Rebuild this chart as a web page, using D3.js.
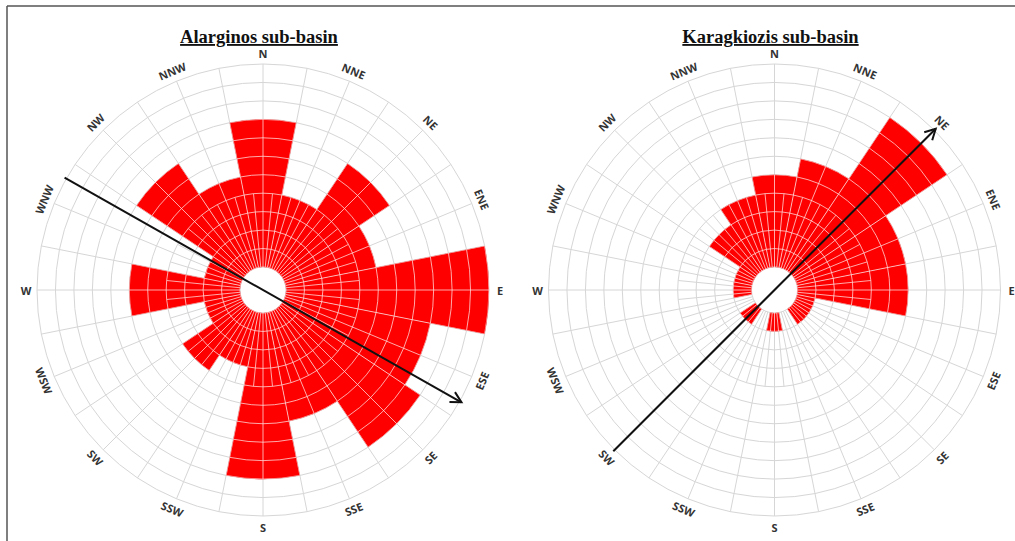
<!DOCTYPE html>
<html>
<head>
<meta charset="utf-8">
<script src="https://cdn.jsdelivr.net/npm/d3@7"></script>
<style>
  html, body { margin: 0; padding: 0; background: #fff; }
  svg { display: block; }
</style>
</head>
<body>
<svg id="chart" width="1015" height="541"></svg>
<script>
// Compass sectors (22.5° each) and frequency counts per sector for each sub-basin
const directions = ["N", "NNE", "NE", "ENE", "E", "ESE", "SE", "SSE",
                    "S", "SSW", "SW", "WSW", "W", "WNW", "NW", "NNW"];
const alarginosCounts   = [8, 4, 7, 5, 11, 8, 9, 6, 9, 3, 4, 2, 6, 2, 7, 5];
const karagkiozisCounts = [5, 6, 10, 6, 6, 1, 1, 0, 1, 0, 1, 0, 1, 1, 3, 4];
// Mean orientation (degrees clockwise from north) drawn as an arrowed axis
const meanDirections = [119.5, 45];
const titles = ["Alarginos sub-basin", "Karagkiozis sub-basin"];
// Concentric ring values
const ringTicks = d3.range(0, 12);

const svg = d3.select("#chart");
const deg = Math.PI / 180;

// Frame
svg.append("line").attr("x1", 7).attr("y1", 6).attr("x2", 1015).attr("y2", 6)
  .attr("stroke", "#555").attr("stroke-width", 1.5);
svg.append("line").attr("x1", 7).attr("y1", 6).attr("x2", 7).attr("y2", 541)
  .attr("stroke", "#555").attr("stroke-width", 1.5);

const panels = [
  { cx: 263, cy: 290, counts: alarginosCounts, mean: meanDirections[0], title: titles[0] },
  { cx: 774.5, cy: 290, counts: karagkiozisCounts, mean: meanDirections[1], title: titles[1] }
];

const r = d3.scaleLinear().domain([0, 11]).range([23, 226]);
const sector = 360 / directions.length;

function drawGrid(g, stroke, width) {
  // rings
  g.selectAll("circle.ring").data(ringTicks).join("circle")
    .attr("class", "ring").attr("r", d => r(d))
    .attr("fill", "none").attr("stroke", stroke).attr("stroke-width", width);
  // main spokes every 11.25°
  const main = d3.range(0, 360, sector / 2);
  g.selectAll("line.spoke").data(main).join("line")
    .attr("class", "spoke")
    .attr("x1", a => r(0) * Math.sin(a * deg)).attr("y1", a => -r(0) * Math.cos(a * deg))
    .attr("x2", a => r(11) * Math.sin(a * deg)).attr("y2", a => -r(11) * Math.cos(a * deg))
    .attr("stroke", stroke).attr("stroke-width", width);
  // finer spokes near the centre
  const fine = d3.range(sector / 4, 360, sector / 2);
  g.selectAll("line.fine").data(fine).join("line")
    .attr("class", "fine")
    .attr("x1", a => r(0) * Math.sin(a * deg)).attr("y1", a => -r(0) * Math.cos(a * deg))
    .attr("x2", a => r(4) * Math.sin(a * deg)).attr("y2", a => -r(4) * Math.cos(a * deg))
    .attr("stroke", stroke).attr("stroke-width", width);
}

panels.forEach((p, i) => {
  const g = svg.append("g").attr("transform", `translate(${p.cx},${p.cy})`);

  // Title
  svg.append("text")
    .attr("x", p.cx - 4).attr("y", 43)
    .attr("text-anchor", "middle")
    .attr("font-family", "'Liberation Serif', 'Times New Roman', serif")
    .attr("font-weight", "bold").attr("font-size", 18.5)
    .attr("text-decoration", "underline")
    .attr("fill", "#111")
    .text(p.title);

  // Grid below bars
  drawGrid(g.append("g"), "#d6d6d6", 1);

  // Bars
  const arc = d3.arc()
    .innerRadius(r(0))
    .outerRadius(d => r(d.v))
    .startAngle(d => (d.i * sector - sector / 2) * deg)
    .endAngle(d => (d.i * sector + sector / 2) * deg);
  const barData = p.counts.map((v, j) => ({ v, i: j }));

  const clipId = "bars" + i;
  const clip = svg.append("defs").append("clipPath").attr("id", clipId);
  clip.selectAll("path").data(barData.filter(d => d.v > 0)).join("path").attr("d", arc);

  g.append("g").selectAll("path").data(barData.filter(d => d.v > 0)).join("path")
    .attr("d", arc).attr("fill", "#ff0000");

  // Grid lines across the bars show up as pale lines
  drawGrid(g.append("g").attr("clip-path", `url(#${clipId})`), "rgba(255,225,225,0.75)", 1);

  // Direction labels
  const labelR = 237;
  g.selectAll("text.dir").data(directions).join("text")
    .attr("class", "dir")
    .attr("transform", (d, j) => {
      const a = j * sector;
      const x = labelR * Math.sin(a * deg), y = -labelR * Math.cos(a * deg);
      let rot;
      if (a === 90 || a === 270) rot = 0;
      else if (a < 90 || a > 270) rot = a > 180 ? a - 360 : a;
      else rot = a - 180;
      return `translate(${x},${y}) rotate(${rot})`;
    })
    .attr("text-anchor", "middle")
    .attr("dominant-baseline", "central")
    .attr("font-family", "'Open Sans', 'Liberation Sans', sans-serif")
    .attr("font-weight", "bold").attr("font-size", 11)
    .attr("fill", "#333")
    .text(d => d);

  // Mean orientation axis with open arrowhead
  const a = p.mean * deg;
  const R = r(11) + 2;
  const x1 = -R * Math.sin(a), y1 = R * Math.cos(a);
  const x2 = R * Math.sin(a), y2 = -R * Math.cos(a);
  g.append("line").attr("x1", x1).attr("y1", y1).attr("x2", x2).attr("y2", y2)
    .attr("stroke", "#111").attr("stroke-width", 2);
  const head = 12, spread = 28 * deg;
  const back = a + Math.PI;
  const hx1 = x2 + head * Math.sin(back - spread), hy1 = y2 - head * Math.cos(back - spread);
  const hx2 = x2 + head * Math.sin(back + spread), hy2 = y2 - head * Math.cos(back + spread);
  g.append("path")
    .attr("d", `M${hx1},${hy1}L${x2},${y2}L${hx2},${hy2}`)
    .attr("fill", "none").attr("stroke", "#111").attr("stroke-width", 2);
});
</script>
</body>
</html>
